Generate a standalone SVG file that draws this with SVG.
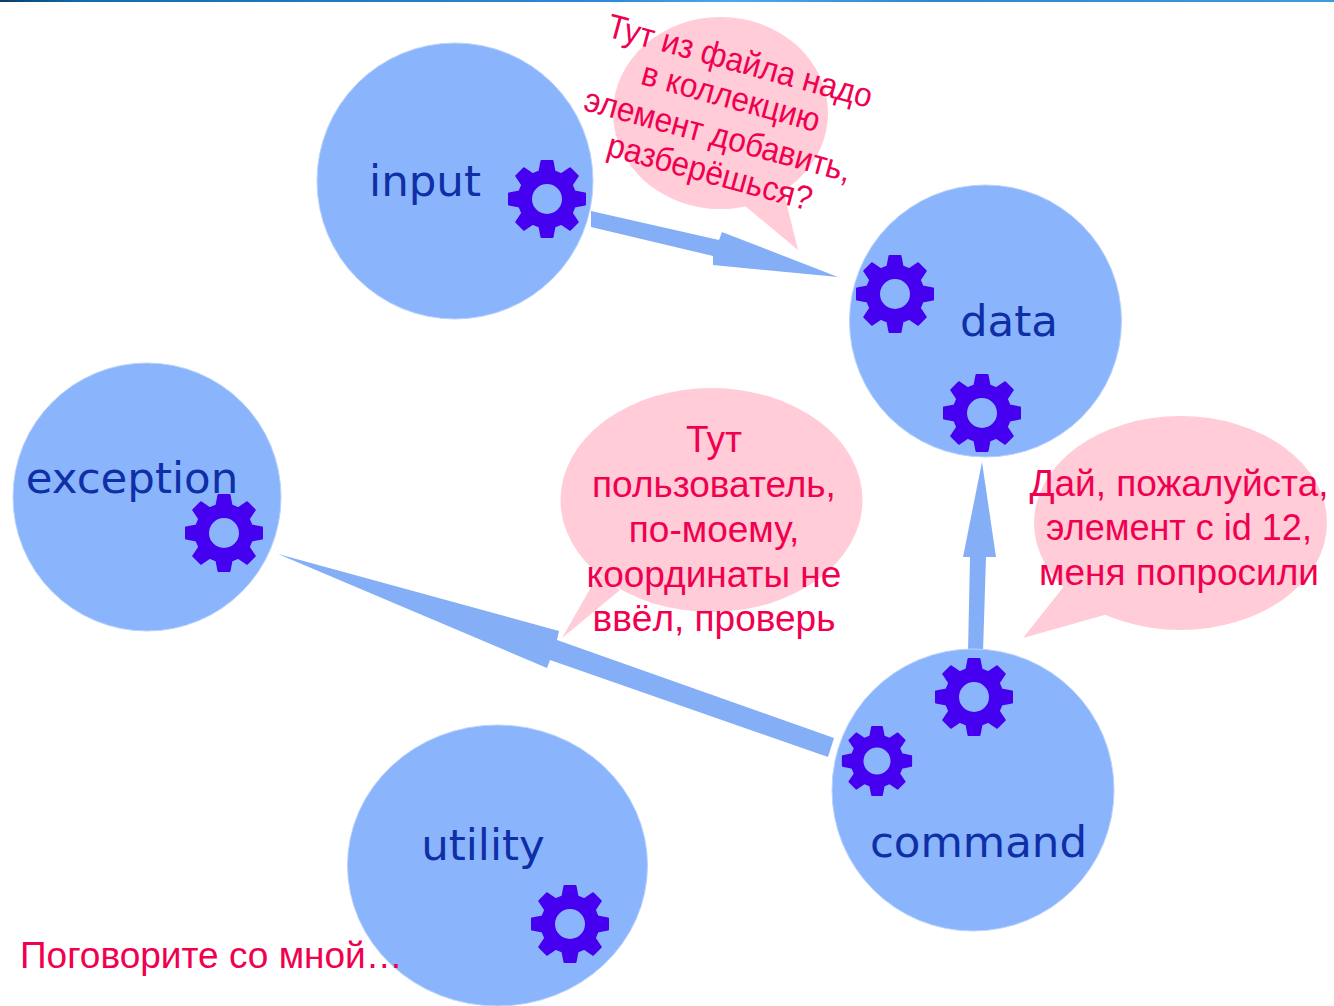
<svg xmlns="http://www.w3.org/2000/svg" width="1334" height="1006" viewBox="0 0 1334 1006">
<style>
.n{fill:#8ab4fb;stroke:#b9d2fd;stroke-width:1}
.g{fill:#4600f0;stroke:#4600f0;stroke-width:2;stroke-linejoin:round;fill-rule:evenodd}
.l{font-family:"DejaVu Sans",sans-serif;font-size:43.500px;fill:#0f2fa6;text-anchor:middle}
.r{font-family:"Liberation Sans",Arial,sans-serif;font-size:37px;fill:#f0004f;text-anchor:middle}
.s{font-size:34px}
.b{fill:#ffccd8}
.a{fill:#84aff7}
</style>
<defs>
<linearGradient id="top" x1="0" x2="1" y1="0" y2="0"><stop offset="0" stop-color="#0a3c66"/><stop offset=".06" stop-color="#0f6cb0"/><stop offset=".45" stop-color="#2a8ad8"/><stop offset=".55" stop-color="#4aa8f0"/><stop offset=".7" stop-color="#2a88d0"/><stop offset="1" stop-color="#3b9ae0"/></linearGradient>
<path id="gear" d="M-7.500-27.500L-5.500-38L5.500-38L7.500-27.500L14.140-24.750L22.980-30.760L30.760-22.980L24.750-14.140L27.500-7.500L38-5.500L38 5.500L27.500 7.500L24.750 14.140L30.760 22.980L22.980 30.760L14.140 24.750L7.500 27.500L5.500 38L-5.500 38L-7.500 27.500L-14.140 24.750L-22.980 30.760L-30.760 22.980L-24.750 14.140L-27.500 7.500L-38 5.500L-38-5.500L-27.500-7.500L-24.750-14.140L-30.760-22.980L-22.980-30.760L-14.140-24.750ZM16 0A16 16 0 1 0-16 0A16 16 0 1 0 16 0Z"/>
</defs>
<rect id="topbar" x="0" y="0" width="1334" height="2" fill="url(#top)"/>
<g id="bubbles">
<ellipse class="b" cx="720.500" cy="113" rx="107.500" ry="96"/>
<polygon class="b" points="745,206 798,250 782,185"/>
<ellipse class="b" cx="711.500" cy="500" rx="151" ry="112"/>
<polygon class="b" points="562,638 598,575 620,590"/>
<ellipse class="b" cx="1180.500" cy="523" rx="146.500" ry="107"/>
<polygon class="b" points="1023,638 1065,585 1115,612"/>
</g>
<g id="connectors">
<polygon class="a" points="591,211 719,240 722,232 838,277 713,265 713,256 591,227"/>
<polygon class="a" points="982,462 996,557 986,557 983,652 968,652 970,557 963,557"/>
<polygon class="a" points="278,554 559,631 557,640 834,738 828,757 550,660 547,668"/>
</g>
<g id="input"><circle class="n" cx="455" cy="181" r="138"/><text class="l" x="425" y="196">input</text><use class="g" href="#gear" x="547" y="199"/></g>
<g id="data"><circle class="n" cx="985.500" cy="321" r="136"/><text class="l" x="1009" y="336">data</text><use class="g" href="#gear" x="895" y="294"/><use class="g" href="#gear" x="982" y="413"/></g>
<g id="exception"><circle class="n" cx="147" cy="497" r="134"/><text class="l" x="132" y="493">exception</text><use class="g" href="#gear" x="224" y="533"/></g>
<g id="command"><circle class="n" cx="973" cy="790" r="141"/><text class="l" x="978.500" y="857">command</text><use class="g" href="#gear" x="974" y="697"/><use class="g" href="#gear" transform="translate(877 761) scale(.9)"/></g>
<g id="utility"><ellipse class="n" cx="497.500" cy="865.500" rx="150" ry="140.500"/><text class="l" x="483" y="860">utility</text><use class="g" href="#gear" x="570" y="924"/></g>
<g id="notes">
<text class="r s" transform="translate(737 72) rotate(15.300) scale(.926 1)">Тут из файла надо</text>
<text class="r s" transform="translate(728 108) rotate(15.300) scale(.926 1)">в коллекцию</text>
<text class="r s" transform="translate(715 146) rotate(15.300) scale(.926 1)">элемент добавить,</text>
<text class="r s" transform="translate(707 183) rotate(15.300) scale(.926 1)">разберёшься?</text>
<text class="r" x="714" y="452">Тут</text>
<text class="r" x="714" y="497">пользователь,</text>
<text class="r" x="714" y="542">по-моему,</text>
<text class="r" x="714" y="587">координаты не</text>
<text class="r" x="714" y="631">ввёл, проверь</text>
<text class="r" x="1179" y="496">Дай, пожалуйста,</text>
<text class="r" x="1179" y="540" style="font-size:36px">элемент с id 12,</text>
<text class="r" x="1179" y="585">меня попросили</text>
<text class="r" x="20" y="968" style="text-anchor:start">Поговорите со мной…</text>
</g>
</svg>
